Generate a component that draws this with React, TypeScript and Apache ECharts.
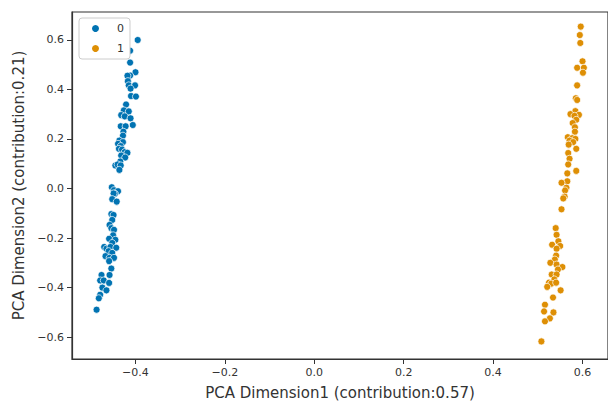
import React, { useEffect, useRef } from "react";
import * as echarts from "echarts";

const seriesNames = ["0", "1"];
const colors = ["#0173b2", "#de8f05"];

const cluster0X = [
  -0.395, -0.412, -0.412, -0.4, -0.412, -0.418, -0.417, -0.415, -0.401, -0.411, -0.41, -0.399,
  -0.421, -0.426, -0.415, -0.432, -0.424, -0.411, -0.406, -0.433, -0.422, -0.427, -0.428, -0.436,
  -0.428, -0.439, -0.433, -0.437, -0.43, -0.424, -0.418, -0.432, -0.423, -0.434, -0.445, -0.44,
  -0.433, -0.436, -0.453, -0.448, -0.439, -0.446, -0.449, -0.452, -0.442, -0.454, -0.449, -0.452,
  -0.458, -0.454, -0.448, -0.45, -0.459, -0.445, -0.452, -0.47, -0.465, -0.456, -0.443, -0.46,
  -0.452, -0.467, -0.458, -0.448, -0.459, -0.454, -0.458, -0.476, -0.479, -0.471, -0.459, -0.474,
  -0.465, -0.479, -0.482, -0.487,
];
const cluster0Y = [
  0.599, 0.556, 0.508, 0.469, 0.456, 0.455, 0.433, 0.416, 0.416, 0.403, 0.373, 0.371,
  0.339, 0.315, 0.311, 0.296, 0.291, 0.283, 0.256, 0.251, 0.251, 0.229, 0.213, 0.193,
  0.187, 0.18, 0.171, 0.16, 0.157, 0.147, 0.144, 0.133, 0.125, 0.109, 0.093, 0.097,
  0.093, 0.075, 0.005, -0.007, -0.011, -0.021, -0.02, -0.043, -0.053, -0.103, -0.107, -0.127,
  -0.147, -0.16, -0.167, -0.189, -0.203, -0.207, -0.22, -0.236, -0.243, -0.236, -0.239, -0.253,
  -0.26, -0.273, -0.28, -0.28, -0.293, -0.323, -0.349, -0.349, -0.371, -0.371, -0.381, -0.4,
  -0.411, -0.429, -0.443, -0.489,
];

const cluster1X = [
  0.596, 0.594, 0.595, 0.6, 0.588, 0.603, 0.601, 0.588, 0.585, 0.588, 0.584, 0.573,
  0.592, 0.582, 0.586, 0.578, 0.583, 0.583, 0.567, 0.577, 0.584, 0.571, 0.579, 0.569,
  0.586, 0.568, 0.571, 0.568, 0.586, 0.566, 0.566, 0.553, 0.564, 0.561, 0.56, 0.557,
  0.553, 0.54, 0.542, 0.546, 0.532, 0.55, 0.542, 0.541, 0.538, 0.528, 0.542, 0.555,
  0.545, 0.531, 0.542, 0.537, 0.525, 0.53, 0.541, 0.521, 0.551, 0.534, 0.516, 0.514,
  0.535, 0.527, 0.516, 0.508,
];
const cluster1Y = [
  0.653, 0.619, 0.587, 0.513, 0.487, 0.487, 0.467, 0.416, 0.364, 0.357, 0.312, 0.3,
  0.297, 0.293, 0.277, 0.264, 0.247, 0.229, 0.207, 0.203, 0.2, 0.193, 0.187, 0.177,
  0.16, 0.143, 0.12, 0.097, 0.071, 0.061, 0.029, 0.023, 0.003, -0.008, -0.033, -0.04,
  -0.084, -0.16, -0.187, -0.213, -0.227, -0.232, -0.243, -0.271, -0.287, -0.3, -0.307, -0.317,
  -0.327, -0.347, -0.347, -0.367, -0.38, -0.384, -0.38, -0.397, -0.411, -0.44, -0.469, -0.496,
  -0.5, -0.524, -0.536, -0.617,
];

const xTicks = [-0.4, -0.2, 0, 0.2, 0.4, 0.6];
const yTicks = [-0.6, -0.4, -0.2, 0, 0.2, 0.4, 0.6];

const xLabel = "PCA Dimension1 (contribution:0.57)";
const yLabel = "PCA Dimension2 (contribution:0.21)";

const fmt = (v: number) => v.toFixed(1).replace("-", "\u2212");

export default function App() {
  const ref = useRef<HTMLDivElement>(null);
  useEffect(() => {
    if (!ref.current) return;
    const chart = echarts.init(ref.current, null, { renderer: "svg" });
    const font = "DejaVu Sans";
    const axisColor = "#333";
    const zip = (xs: number[], ys: number[]) => xs.map((x, i) => [x, ys[i]]);
    chart.setOption({
      animation: false,
      textStyle: { fontFamily: font },
      grid: {
        left: 72,
        top: 12,
        right: -3,
        bottom: 43,
        show: true,
        borderColor: axisColor,
        borderWidth: 1.2,
        backgroundColor: "transparent",
      },
      legend: {
        orient: "vertical",
        left: 79,
        top: 18,
        data: seriesNames,
        icon: "circle",
        itemWidth: 9,
        itemHeight: 9,
        itemGap: 9,
        padding: [5, 6, 5, 11],
        backgroundColor: "#fff",
        borderColor: "#ccc",
        borderWidth: 1,
        borderRadius: 3,
        textStyle: { fontFamily: font, fontSize: 11, color: "#333", padding: [0, 0, 0, 12] },
      },
      xAxis: {
        type: "value",
        min: -0.542,
        max: 0.657,
        name: xLabel,
        nameLocation: "middle",
        nameGap: 26,
        nameTextStyle: { fontFamily: font, fontSize: 15, color: "#333" },
        splitLine: { show: false },
        axisLine: { show: true, onZero: false, lineStyle: { color: axisColor, width: 1.2 } },
        axisTick: { show: true, inside: false, length: 5, lineStyle: { color: axisColor }, customValues: xTicks },
        axisLabel: {
          customValues: xTicks,
          formatter: (v: number) => fmt(v),
          fontFamily: font,
          fontSize: 11,
          color: "#333",
          margin: 8,
        },
      },
      yAxis: {
        type: "value",
        min: -0.688,
        max: 0.712,
        name: yLabel,
        nameLocation: "middle",
        nameGap: 44,
        nameRotate: 90,
        nameTextStyle: { fontFamily: font, fontSize: 15, color: "#333" },
        splitLine: { show: false },
        axisLine: { show: true, onZero: false, lineStyle: { color: axisColor, width: 1.2 } },
        axisTick: { show: true, inside: false, length: 5, lineStyle: { color: axisColor }, customValues: yTicks },
        axisLabel: {
          customValues: yTicks,
          formatter: (v: number) => fmt(v),
          fontFamily: font,
          fontSize: 11,
          color: "#333",
          margin: 8,
        },
      },
      series: [
        {
          name: seriesNames[0],
          type: "scatter",
          data: zip(cluster0X, cluster0Y),
          symbolSize: 7,
          itemStyle: { color: colors[0], borderColor: "#fff", borderWidth: 0.7, opacity: 1 },
        },
        {
          name: seriesNames[1],
          type: "scatter",
          data: zip(cluster1X, cluster1Y),
          symbolSize: 7,
          itemStyle: { color: colors[1], borderColor: "#fff", borderWidth: 0.7, opacity: 1 },
        },
      ],
    });
    return () => chart.dispose();
  }, []);
  return <div ref={ref} style={{ width: 608, height: 405, position: "absolute", left: 0, top: 0 }} />;
}
